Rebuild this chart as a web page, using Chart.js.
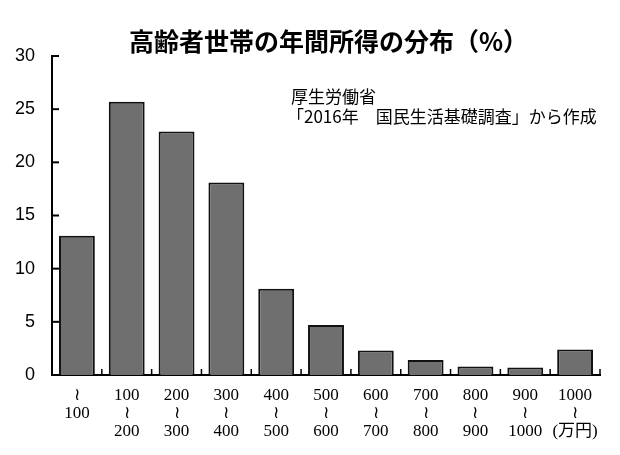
<!DOCTYPE html>
<html lang="ja">
<head>
  <meta charset="UTF-8" />
  <title>高齢者世帯の年間所得の分布</title>
  <script src="https://cdn.jsdelivr.net/npm/chart.js"></script>
  <style>
    html, body {
      margin: 0;
      padding: 0;
      background: #fff;
    }
    #wrap {
      width: 620px;
      height: 455px;
    }
  </style>
</head>
<body>
  <div id="wrap">
    <canvas id="incomeChart" width="620" height="455"></canvas>
  </div>

  <script>
    // income brackets (万円), one array of lines per bar
    const categories = [
      ['≀', '100'],
      ['100', '≀', '200'],
      ['200', '≀', '300'],
      ['300', '≀', '400'],
      ['400', '≀', '500'],
      ['500', '≀', '600'],
      ['600', '≀', '700'],
      ['700', '≀', '800'],
      ['800', '≀', '900'],
      ['900', '≀', '1000'],
      ['1000', '≀', '(万円)']
    ];
    const shares = [13.1, 25.7, 22.9, 18.1, 8.1, 4.7, 2.3, 1.4, 0.8, 0.7, 2.4];
    const yTicks = [0, 5, 10, 15, 20, 25, 30];

    const titleText = '高齢者世帯の年間所得の分布（%）';
    const sourceLines = ['厚生労働省', '「2016年　国民生活基礎調査」から作成'];

    // short inward tick marks on both axes
    const innerTicks = {
      id: 'innerTicks',
      afterDraw(chart) {
        const { ctx } = chart;
        const x = chart.scales.x;
        const y = chart.scales.y;
        ctx.save();
        ctx.strokeStyle = '#000';
        ctx.lineWidth = 2;
        yTicks.forEach(v => {
          const py = y.getPixelForValue(v);
          ctx.beginPath();
          ctx.moveTo(x.left, py);
          ctx.lineTo(x.left + 7, py);
          ctx.stroke();
        });
        const half = (x.getPixelForValue(1) - x.getPixelForValue(0)) / 2;
        ctx.lineWidth = 1.5;
        categories.forEach((c, i) => {
          const px = x.getPixelForValue(i) + half;
          ctx.beginPath();
          ctx.moveTo(px, y.bottom);
          ctx.lineTo(px, y.bottom - 6);
          ctx.stroke();
        });
        ctx.restore();
      }
    };

    // title and source note
    const texts = {
      id: 'texts',
      afterDraw(chart) {
        const { ctx } = chart;
        ctx.save();
        ctx.fillStyle = '#000';
        ctx.textAlign = 'left';
        ctx.textBaseline = 'middle';
        ctx.font = 'bold 25px "Noto Sans CJK JP", sans-serif';
        ctx.fillText(titleText, 129, 41);
        ctx.font = '17px "Noto Sans CJK JP", sans-serif';
        ctx.fillText(sourceLines[0], 291, 97);
        ctx.fillText(sourceLines[1], 287, 117);
        ctx.restore();
      }
    };

    new Chart(document.getElementById('incomeChart'), {
      type: 'bar',
      data: {
        labels: categories,
        datasets: [{
          data: shares,
          backgroundColor: '#6f6f6f',
          borderColor: '#111',
          borderWidth: 2,
          categoryPercentage: 1,
          barPercentage: 0.72
        }]
      },
      options: {
        responsive: false,
        animation: false,
        events: [],
        layout: { padding: { left: 0, right: 20, top: 56, bottom: 0 } },
        plugins: {
          legend: { display: false },
          tooltip: { enabled: false },
          title: { display: false }
        },
        scales: {
          x: {
            z: 1,
            grid: { display: false },
            border: { display: true, color: '#000', width: 2 },
            ticks: {
              color: '#000',
              padding: 4,
              maxRotation: 0,
              autoSkip: false,
              font: { family: '"Liberation Serif", "Noto Sans CJK JP", serif', size: 17, lineHeight: 1.05 }
            },
            afterFit(scale) { scale.height = 80; }
          },
          y: {
            z: 1,
            min: 0,
            max: 30,
            grid: { display: false },
            border: { display: true, color: '#000', width: 2 },
            afterBuildTicks(scale) { scale.ticks = yTicks.map(v => ({ value: v })); },
            ticks: {
              color: '#000',
              padding: 9,
              font: { family: '"Liberation Sans", Arial, sans-serif', size: 18 }
            },
            afterFit(scale) { scale.width = 52; }
          }
        }
      },
      plugins: [innerTicks, texts]
    });
  </script>
</body>
</html>
